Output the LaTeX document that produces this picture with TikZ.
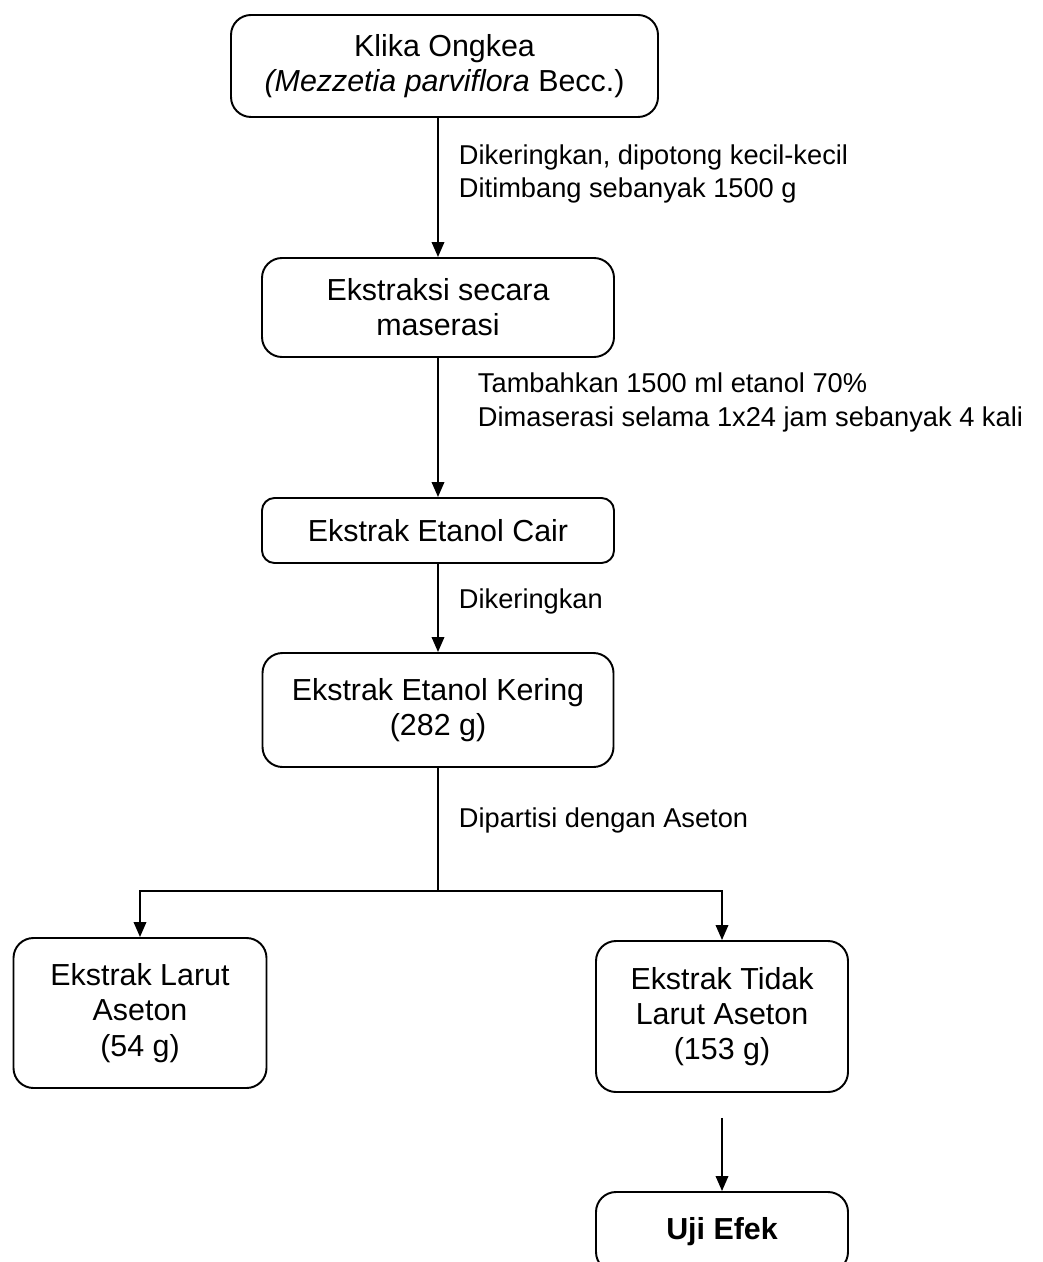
\documentclass[tikz,border=0pt]{standalone}
\usepackage{fontspec}
\setmainfont{Liberation Sans}
\usetikzlibrary{arrows.meta}

\begin{document}
\begin{tikzpicture}[
    box/.style={draw, line width=1.1pt, rounded corners=0.4cm, align=center, font=\fontsize{17.3}{20}\selectfont},
    lbl/.style={right, inner sep=0pt, xshift=0.4cm, align=left, font=\fontsize{15.5}{18.8}\selectfont},
    arr/.style={line width=1.1pt, -{Triangle[length=3mm, width=2.5mm]}}
]
    % Frame
    \useasboundingbox (0,0) rectangle (20.84,-25.24);
    \clip (0,0) rectangle (20.84,-25.24);

    % Boxes
    \node[box, minimum width=8.54cm, minimum height=2.04cm] (klika) at (8.89,-1.32)
        {Klika Ongkea\\\textit{(Mezzetia parviflora} Becc.)};
    \node[box, minimum width=7.04cm, minimum height=1.98cm] (maserasi) at (8.76,-6.15)
        {Ekstraksi secara\\maserasi};
    \node[box, rounded corners=0.25cm, minimum width=7.04cm, minimum height=1.30cm] (cair) at (8.76,-10.61)
        {Ekstrak Etanol Cair};
    \node[box, minimum width=7.02cm, minimum height=2.28cm] (kering) at (8.76,-14.2)
        {Ekstrak Etanol Kering\\(282 g)};
    \node[box, minimum width=5.06cm, minimum height=3.0cm] (larut) at (2.80,-20.26)
        {Ekstrak Larut\\Aseton\\(54 g)};
    \node[box, minimum width=5.04cm, minimum height=3.02cm] (tidak) at (14.44,-20.33)
        {Ekstrak Tidak\\Larut Aseton\\(153 g)};
    \node[box, minimum width=5.04cm, minimum height=1.6cm, font=\fontsize{17.3}{20}\selectfont\bfseries] (uji) at (14.44,-24.64)
        {Uji Efek};

    % Arrows
    \draw[arr] (klika.south -| maserasi.north) -- node[lbl, pos=0.40] (l1)
        {Dikeringkan, dipotong kecil-kecil\\Ditimbang sebanyak 1500 g} (maserasi.north);
    \draw[arr] (maserasi) -- node[lbl, pos=0.32, xshift=0.38cm] (l2)
        {Tambahkan 1500 ml etanol 70\%\\Dimaserasi selama 1x24 jam sebanyak 4 kali} (cair);
    \draw[arr] (cair) -- node[lbl, pos=0.42] (l3) {Dikeringkan} (kering);

    % Split
    \draw[line width=1.1pt] (kering.south) -- node[lbl, pos=0.43] (l4) {Dipartisi dengan Aseton} ++(0,-2.46) coordinate (split);
    \draw[arr] (split) -| (larut.north);
    \draw[arr] (split) -| (tidak.north);
    \draw[arr] ([yshift=-0.5cm]tidak.south) -- (uji.north);
\end{tikzpicture}
\end{document}
